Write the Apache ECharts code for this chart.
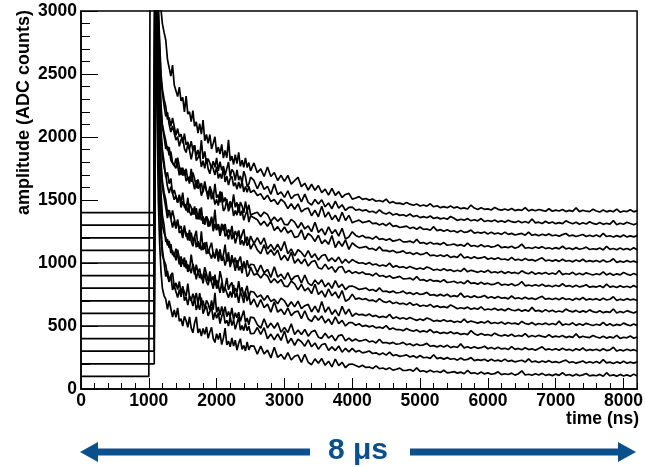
<!DOCTYPE html>
<html><head><meta charset="utf-8">
<script src="https://cdn.jsdelivr.net/npm/echarts@6/dist/echarts.min.js"></script>
<style>html,body{margin:0;padding:0;background:#fff}#c{width:646px;height:467px}</style>
</head><body><div id="c"></div>
<script>
// sample times (ns)
const times = [0,1000,1020,1080,1090,1100,1120,1140,1160,1180,1200,1225,
1250,1275,1300,1325,1350,1375,1400,1425,1450,1475,
1500,1525,1550,1575,1600,1625,1650,1675,1700,1725,
1750,1775,1800,1825,1850,1875,1900,1925,1950,1975,
2000,2025,2050,2075,2100,2125,2150,2175,2200,2225,
2250,2275,2300,2325,2350,2375,2400,2425,2450,2475,
2500,
2550,2600,2650,2700,2750,2800,2850,2900,2950,3000,
3050,3100,3150,3200,3250,3300,3350,3400,3450,3500,
3550,3600,3650,3700,3750,3800,3850,3900,3950,4000,
4050,4100,4150,4200,4250,4300,4350,4400,4450,4500,
4550,4600,4650,4700,4750,4800,4850,4900,4950,5000,
5050,5100,5150,5200,5250,5300,5350,5400,5450,5500,
5550,5600,5650,5700,5750,5800,5850,5900,5950,6000,
6050,6100,6150,6200,6250,6300,6350,6400,6450,6500,
6550,6600,6650,6700,6750,6800,6850,6900,6950,7000,
7050,7100,7150,7200,7250,7300,7350,7400,7450,7500,
7550,7600,7650,7700,7750,7800,7850,7900,7950,8000,
8050,8100,8150,8200];

// amplitude (ADC counts) of each waveform; baselines 100 ... 1400
const trace100 = [100,100,3500,3450,3400,3300,2200,1500,1150,930,800,740,
713,633,701,637,571,627,569,643,538,558,500,576,542,490,572,484,446,524,572,445,
478,421,480,434,493,402,452,490,400,369,439,393,444,353,404,484,349,380,335,405,
341,387,308,363,399,315,346,302,374,310,342,
340,277,340,279,308,247,331,251,275,235,289,230,260,270,211,276,212,193,239,205,242,188,220,176,238,185,212,169,196,198,
186,174,188,171,174,162,184,161,167,155,168,150,157,166,147,148,155,141,168,140,145,134,149,135,141,131,149,128,132,138,
126,134,121,147,124,129,119,134,120,128,117,122,136,114,121,115,126,110,121,144,111,117,109,121,111,124,108,116,106,118,
108,129,108,115,104,118,105,112,123,104,110,105,116,101,129,105,112,102,116,103,112,101,118,103];
const trace200 = [200,200,200,200,3500,3400,2690,1990,1540,1290,1110,1000,
892,937,855,902,787,820,829,726,788,732,817,701,731,666,737,712,658,724,626,672,
628,725,597,635,658,580,594,651,550,608,561,605,519,577,612,521,545,499,574,503,
548,473,523,572,467,503,463,523,463,499,440,
441,488,434,487,399,436,390,438,386,460,363,402,347,396,375,340,390,335,365,316,351,361,307,334,305,341,292,323,295,322,
295,305,287,293,302,282,287,272,285,269,292,265,272,259,264,271,254,263,248,266,248,252,243,272,241,249,237,249,236,242,
229,246,230,235,249,225,233,227,236,221,236,222,229,219,237,219,227,215,222,228,214,239,214,221,210,222,213,225,210,217,
208,220,229,209,216,205,213,222,206,216,207,219,205,233,207,213,203,215,205,221,204,213,205,215];
const trace300 = [300,300,300,300,3500,3350,2700,2000,1450,1200,1060,1020,
986,899,850,905,922,806,842,790,854,754,805,810,736,837,729,700,757,709,762,674,
761,669,702,635,704,677,626,704,629,763,607,651,586,655,600,654,574,614,574,644,
550,605,565,610,536,582,623,528,564,510,571,
564,511,483,557,485,523,482,526,450,489,448,518,433,468,433,473,419,454,465,411,402,442,404,426,382,424,430,382,404,381,
396,380,385,393,374,381,366,395,366,369,360,370,355,359,370,351,359,344,358,345,350,362,339,344,334,346,334,348,328,337,
329,358,326,335,323,336,323,328,339,319,329,318,331,318,323,313,336,315,322,312,327,313,319,308,322,335,311,318,309,319,
307,324,309,315,304,319,307,325,305,314,307,316,304,320,305,311,331,301,312,303,316,305,312,301];
const trace400 = [400,400,400,400,3500,3450,2950,2250,1800,1550,1380,1300,
1168,1189,1120,1150,1063,1079,1021,1106,1038,970,1029,967,1020,930,959,919,993,944,870,940,
881,911,838,924,852,824,886,848,796,908,796,823,762,845,764,802,811,725,773,727,
827,725,765,684,769,738,683,773,698,747,668,
714,649,710,646,673,610,692,610,633,590,643,582,610,619,558,621,556,536,581,545,580,525,556,512,572,518,544,500,526,527,
506,518,497,505,493,502,485,491,482,503,473,484,471,472,463,480,467,458,469,453,461,452,472,447,455,441,449,440,454,439,
447,433,440,432,463,439,427,441,428,432,423,443,428,421,430,420,434,417,425,419,440,413,425,415,426,418,412,431,412,420,
413,424,408,418,410,437,408,419,411,408,425,413,405,418,404,414,406,426,401,411,406,420,403,413];
const trace500 = [500,500,500,500,3500,3300,2800,2150,1700,1450,1300,1240,
1204,1140,1175,1078,1100,1048,1113,1060,989,1053,993,1043,958,989,945,1066,972,909,986,923,
955,872,890,967,916,854,933,860,894,823,866,820,935,873,783,808,882,787,826,846,
757,801,767,856,767,807,733,778,819,724,776,
768,729,746,704,742,695,713,677,721,700,653,693,652,697,637,661,672,612,658,608,694,609,651,592,628,580,656,593,634,576,
601,588,592,581,595,576,584,568,576,567,592,560,572,557,565,553,567,555,545,555,545,563,553,538,545,537,550,536,543,529,
538,529,554,527,539,532,523,533,524,540,520,528,520,532,515,528,518,523,513,536,520,513,528,509,520,512,523,510,520,510,
539,507,516,510,525,505,518,506,521,512,504,514,506,529,504,517,502,513,505,523,511,502,516,503];
const trace600 = [600,600,600,600,3500,3450,3100,2500,2050,1800,1650,1560,
1504,1402,1420,1352,1418,1353,1283,1337,1272,1293,1221,1298,1210,1234,1177,1241,1169,1209,1124,1173,
1113,1252,1103,1164,1071,1107,1119,1035,1087,1038,1115,1012,1085,1017,1051,979,992,1085,968,1026,
1005,938,1023,941,975,919,1013,973,892,911,967,
906,916,881,916,897,843,875,842,869,816,813,856,834,787,830,778,802,757,831,750,779,729,794,740,770,720,781,696,712,753,
713,721,710,717,701,706,692,717,695,686,698,678,688,675,680,668,686,665,675,657,665,657,671,650,660,648,654,645,667,653,
637,645,638,650,633,642,633,652,627,635,629,640,625,634,621,639,627,621,632,618,628,617,648,618,624,612,630,614,625,611,
619,611,634,620,612,624,608,620,610,628,614,607,621,606,614,608,635,603,615,606,622,612,603,616];
const trace700 = [700,700,700,700,3500,3400,2950,2400,2000,1750,1600,1520,
1442,1357,1420,1352,1282,1335,1274,1346,1238,1257,1197,1271,1236,1181,1262,1172,1133,1209,1256,1127,
1158,1100,1157,1110,1168,1075,1124,1161,1070,1038,1106,1060,1109,1017,1067,1146,1010,1039,994,1063,
998,1043,963,1017,1052,968,998,953,1023,959,990,
986,923,984,922,949,886,970,888,911,870,923,862,892,901,840,905,840,820,865,831,866,811,842,799,860,806,832,788,815,817,
806,790,795,802,783,790,775,803,774,777,767,777,762,766,777,757,765,750,764,750,755,767,744,749,739,751,738,752,732,741,
733,761,729,738,726,739,726,731,742,722,732,721,734,721,725,715,738,717,724,714,729,715,721,710,724,736,712,719,710,720,
708,725,710,716,705,720,708,726,706,715,708,717,705,721,706,712,732,702,713,704,717,706,713,702];
const trace800 = [800,800,800,800,3500,3450,3200,2700,2300,2050,1900,1800,
1682,1719,1630,1671,1551,1579,1584,1477,1537,1477,1559,1441,1468,1401,1469,1442,1385,1449,1348,1392,
1346,1441,1311,1346,1368,1288,1300,1355,1252,1309,1260,1302,1215,1271,1304,1212,1235,1187,1260,1188,
1232,1155,1204,1252,1146,1180,1139,1198,1137,1171,1111,
1160,1104,1073,1144,1069,1105,1061,1103,1024,1061,1018,1085,998,1031,994,1032,976,1010,1019,963,952,991,951,971,926,966,972,922,942,918,
930,916,928,911,912,899,920,895,901,887,899,880,886,894,874,875,880,866,892,863,868,855,870,856,860,850,867,845,849,855,
841,849,836,861,838,842,832,847,832,840,828,833,846,824,831,824,835,819,829,852,819,825,817,828,818,831,815,822,812,824,
814,835,814,821,809,823,810,816,827,808,814,809,820,805,833,809,816,806,820,807,816,805,821,806];
const trace900 = [900,900,900,900,3500,3400,3100,2650,2250,2000,1850,1760,
1700,1608,1555,1606,1620,1502,1535,1481,1543,1441,1490,1494,1418,1518,1408,1378,1433,1384,1435,1346,
1432,1338,1370,1302,1370,1342,1290,1367,1290,1423,1266,1309,1243,1311,1255,1309,1228,1267,1226,1295,
1200,1254,1214,1258,1183,1228,1268,1173,1208,1153,1214,
1155,1201,1147,1199,1111,1148,1101,1149,1097,1170,1073,1112,1056,1105,1084,1048,1098,1043,1073,1023,1058,1068,1014,1040,1011,1047,998,1029,1000,1027,
1011,998,1002,990,1004,985,992,976,984,975,999,967,979,964,971,959,973,961,951,960,950,968,958,943,950,941,954,940,947,933,
942,933,957,930,942,935,926,936,927,943,923,931,922,934,917,930,920,925,915,938,922,915,930,911,922,914,925,911,921,911,
940,908,917,911,926,906,919,907,922,913,905,915,907,930,905,918,903,914,906,924,912,903,917,904];
const trace1000 = [1000,1000,1000,1000,3500,3450,3300,2850,2500,2250,2100,2030,
1970,1895,1920,1815,1829,1771,1830,1773,1696,1756,1693,1739,1650,1678,1630,1748,1650,1584,1658,1591,
1620,1534,1549,1624,1570,1505,1581,1506,1538,1464,1505,1456,1569,1505,1413,1435,1508,1410,1448,1465,
1374,1416,1380,1468,1376,1415,1339,1383,1421,1325,1375,
1359,1343,1301,1331,1291,1331,1258,1289,1245,1286,1238,1260,1203,1210,1263,1185,1234,1213,1171,1220,1154,1183,1148,1218,1123,1173,1133,1183,1108,1159,
1137,1120,1124,1131,1111,1116,1100,1128,1098,1100,1090,1099,1083,1086,1096,1076,1083,1068,1081,1067,1071,1083,1059,1063,1053,1064,1051,1065,1044,1053,
1044,1072,1040,1049,1036,1049,1036,1040,1050,1030,1040,1029,1041,1028,1032,1022,1045,1023,1030,1020,1035,1021,1027,1015,1029,1041,1017,1024,1015,1025,
1013,1029,1014,1020,1009,1024,1012,1030,1010,1019,1011,1020,1008,1023,1008,1014,1034,1004,1015,1006,1019,1008,1015,1004];
const trace1100 = [1100,1100,1100,1100,3500,3450,3250,2800,2450,2200,2080,2000,
1906,1926,1855,1884,1796,1811,1752,1837,1767,1699,1757,1695,1748,1657,1686,1645,1719,1669,1594,1664,
1604,1634,1561,1647,1574,1545,1608,1569,1516,1628,1516,1543,1481,1564,1482,1520,1529,1442,1491,1444,
1544,1442,1481,1400,1484,1454,1398,1488,1412,1462,1382,
1393,1403,1368,1404,1385,1331,1364,1331,1358,1306,1303,1346,1325,1278,1321,1270,1294,1249,1323,1243,1272,1222,1287,1233,1264,1214,1275,1190,1206,1248,
1219,1206,1219,1201,1203,1190,1212,1187,1193,1180,1192,1173,1179,1188,1168,1168,1174,1160,1187,1158,1162,1150,1165,1151,1156,1146,1162,1141,1145,1151,
1138,1146,1133,1157,1134,1139,1129,1144,1129,1137,1126,1131,1144,1121,1128,1122,1133,1117,1127,1150,1117,1123,1115,1127,1117,1130,1114,1121,1111,1122,
1112,1133,1112,1119,1108,1122,1109,1115,1126,1107,1113,1108,1119,1104,1132,1108,1115,1105,1119,1106,1115,1104,1121,1106];
const trace1200 = [1200,1200,1200,1200,3500,3500,3350,3000,2700,2450,2350,2250,
2163,2196,2100,2039,2087,2098,1976,2003,1926,1980,1996,1907,1877,1939,1896,1823,1890,1934,1812,1815,
1859,1762,1812,1751,1832,1747,1708,1777,1748,1699,1765,1671,1708,1669,1756,1643,1690,1618,1670,1687,
1611,1638,1586,1643,1592,1650,1564,1607,1561,1609,1559,
1578,1536,1549,1504,1538,1488,1504,1465,1506,1482,1432,1470,1427,1469,1406,1428,1437,1375,1419,1367,1451,1364,1404,1344,1379,1329,1403,1338,1378,1319,
1331,1340,1321,1326,1334,1312,1317,1301,1313,1296,1319,1291,1296,1282,1287,1293,1275,1284,1268,1286,1267,1270,1260,1288,1257,1265,1252,1264,1250,1256,
1242,1259,1243,1247,1261,1237,1244,1237,1246,1230,1245,1231,1238,1227,1245,1227,1235,1222,1229,1235,1221,1245,1220,1227,1216,1228,1219,1231,1216,1222,
1213,1225,1234,1214,1221,1210,1218,1226,1210,1220,1210,1222,1208,1236,1210,1216,1206,1217,1207,1223,1206,1215,1207,1217];
const trace1300 = [1300,1300,1300,1300,3500,3500,3400,3050,2750,2500,2380,2300,
2242,2139,2155,2086,2151,2084,2014,2067,2002,2022,1949,2026,1938,1961,1904,1967,1895,1934,1848,1897,
1836,1976,1826,1886,1793,1828,1840,1755,1807,1759,1835,1732,1805,1736,1769,1697,1710,1802,1685,1743,
1722,1655,1739,1657,1691,1635,1729,1688,1607,1626,1681,
1655,1589,1648,1584,1609,1545,1626,1543,1564,1521,1573,1510,1538,1546,1484,1547,1481,1460,1504,1468,1502,1446,1476,1431,1491,1436,1462,1417,1442,1443,
1419,1426,1414,1422,1405,1411,1396,1421,1399,1389,1402,1381,1391,1378,1383,1372,1389,1368,1377,1360,1368,1359,1373,1353,1362,1350,1357,1347,1369,1355,
1338,1347,1340,1352,1335,1343,1334,1353,1329,1337,1330,1341,1326,1335,1323,1340,1328,1322,1333,1319,1329,1318,1349,1318,1324,1313,1331,1315,1326,1312,
1320,1312,1335,1321,1312,1324,1308,1320,1310,1328,1314,1307,1321,1307,1315,1309,1336,1304,1316,1307,1323,1313,1303,1316];
const trace1400 = [1400,1400,1400,1400,3600,3550,3400,3250,3120,3010,2900,2830,
2770,2615,2625,2483,2570,2413,2410,2321,2395,2287,2315,2200,2325,2182,2200,2122,2210,2085,2120,2030,
2105,2022,2135,1970,2020,1950,2020,1905,1950,2002,1875,1920,1865,1941,1832,1893,1835,1977,1810,1848,
1782,1860,1789,1878,1767,1816,1760,1834,1758,1797,1731,
1794,1717,1747,1687,1762,1687,1718,1655,1696,1648,1695,1626,1653,1680,1606,1633,1579,1625,1577,1615,1558,1586,1539,1593,1537,1566,1520,1544,1553,1507,
1516,1527,1505,1512,1499,1508,1490,1496,1486,1507,1476,1487,1473,1475,1465,1481,1467,1458,1468,1452,1460,1451,1470,1446,1454,1439,1447,1438,1452,1437,
1445,1431,1437,1429,1460,1436,1424,1438,1426,1430,1421,1441,1426,1420,1429,1419,1432,1416,1424,1418,1439,1413,1424,1415,1425,1418,1411,1431,1411,1420,
1413,1424,1408,1418,1410,1437,1408,1419,1411,1408,1426,1413,1405,1420,1406,1416,1407,1428,1403,1413,1408,1422,1406,1416];

const xTickValues = [0,1000,2000,3000,4000,5000,6000,7000,8000];
const xMinorTickValues = [200,400,600,800,1200,1400,1600,1800,2200,2400,2600,2800,3200,3400,3600,3800,4200,4400,4600,4800,5200,5400,5600,5800,6200,6400,6600,6800,7200,7400,7600,7800,8200];
const yTickValues = [0,500,1000,1500,2000,2500,3000];

const traces = [trace100,trace200,trace300,trace400,trace500,trace600,trace700,trace800,trace900,trace1000,trace1100,trace1200,trace1300,trace1400];
traces.forEach((tr,k)=>{ if (tr.length !== times.length) console.error('length mismatch trace', k, tr.length, times.length); });

const FONT = '"Liberation Sans", Arial, sans-serif';
const BLUE = '#0b4f8c';
const chart = echarts.init(document.getElementById('c'), null, {renderer:'canvas', width:646, height:467});
const option = {
  animation: false,
  backgroundColor: '#fff',
  grid: {left:81, right:6, top:11, bottom:78, show:true, borderColor:'#000', borderWidth:1.5, containLabel:false},
  xAxis: [{
    type:'value', min:0, max:8200, interval:1000,
    axisLine:{show:true, onZero:false, lineStyle:{color:'#000', width:1.5}},
    axisTick:{show:true, inside:true, length:11, customValues:xTickValues, lineStyle:{color:'#000', width:1}},
    axisLabel:{customValues:xTickValues, formatter:v=>String(v), color:'#000', fontFamily:FONT, fontWeight:'bold', fontSize:17.5, margin:3},
    splitLine:{show:false}
  },{
    type:'value', min:0, max:8200, position:'bottom',
    axisLine:{show:false},
    axisTick:{show:true, inside:true, length:6, customValues:xMinorTickValues, lineStyle:{color:'#000', width:1}},
    axisLabel:{show:false}, splitLine:{show:false}
  }],
  yAxis: {
    type:'value', min:0, max:3000, interval:500,
    axisLine:{show:true, onZero:false, lineStyle:{color:'#000', width:1.5}},
    axisTick:{show:true, inside:true, length:17, lineStyle:{color:'#000', width:1}},
    minorTick:{show:true, splitNumber:5, length:9, lineStyle:{color:'#000', width:1}},
    axisLabel:{customValues:yTickValues, formatter:v=>String(v), color:'#000', fontFamily:FONT, fontWeight:'bold', fontSize:17.5, margin:4},
    splitLine:{show:false}, minorSplitLine:{show:false}
  },
  series: traces.map((tr, k) => ({
    type:'line', name:'trace ' + (k+1), xAxisIndex:0, yAxisIndex:0,
    data: times.map((t, j) => [t, tr[j]]),
    showSymbol:false, symbol:'none', silent:true, clip:true,
    lineStyle:{color:'#000', width:1.7}
  })),
  graphic: [
    {type:'text', x:24, y:10, rotation:Math.PI/2,
     style:{text:'amplitude (ADC counts)', fill:'#000', font:'bold 18px ' + FONT, align:'right', verticalAlign:'middle', textAlign:'right', textVerticalAlign:'middle'}},
    {type:'text', x:639, y:419,
     style:{text:'time (ns)', fill:'#000', font:'bold 17.5px ' + FONT, align:'right', verticalAlign:'middle', textAlign:'right', textVerticalAlign:'middle'}},
    {type:'line', shape:{x1:96, y1:452, x2:310, y2:452}, style:{stroke:BLUE, lineWidth:7}},
    {type:'polygon', shape:{points:[[80,452],[98,442],[98,462]]}, style:{fill:BLUE}},
    {type:'line', shape:{x1:410, y1:452, x2:620, y2:452}, style:{stroke:BLUE, lineWidth:7}},
    {type:'polygon', shape:{points:[[636,452],[618,442],[618,462]]}, style:{fill:BLUE}},
    {type:'text', x:358, y:451,
     style:{text:'8 μs', fill:BLUE, font:'bold 30px ' + FONT, align:'center', verticalAlign:'middle', textAlign:'center', textVerticalAlign:'middle'}}
  ]
};
chart.setOption(option);
</script></body></html>
